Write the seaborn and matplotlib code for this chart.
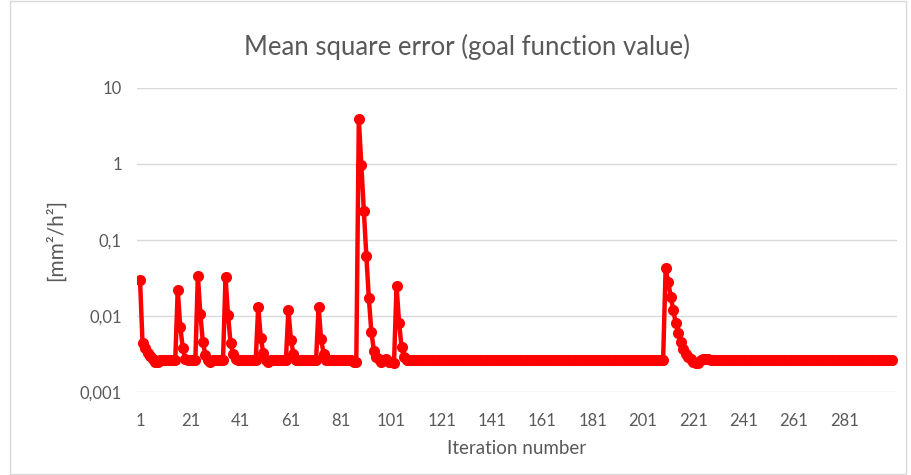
import pandas as pd
import seaborn as sns
import matplotlib.pyplot as plt
from matplotlib.patches import Rectangle

# mean square error per iteration (iterations 1..300)
mse = [
    0.030, 0.0044, 0.0038, 0.0033, 0.0030, 0.0027, 0.0025, 0.0025, 0.0026, 0.0026,
    0.0026, 0.0026, 0.0026, 0.0026, 0.0026, 0.022, 0.0072, 0.0038, 0.0027, 0.0026,
    0.0026, 0.0026, 0.0026, 0.034, 0.0105, 0.0045, 0.0031, 0.0026, 0.0025, 0.0026,
    0.0026, 0.0026, 0.0026, 0.0026, 0.033, 0.0102, 0.0044, 0.0032, 0.0027, 0.0026,
    0.0026, 0.0026, 0.0026, 0.0026, 0.0026, 0.0026, 0.0026, 0.0133, 0.0052, 0.0033,
    0.0026, 0.0025, 0.0026, 0.0026, 0.0026, 0.0026, 0.0026, 0.0026, 0.0026, 0.012,
    0.0049, 0.0032, 0.0026, 0.0026, 0.0026, 0.0026, 0.0026, 0.0026, 0.0026, 0.0026,
    0.0026, 0.0133, 0.0050, 0.0032, 0.0026, 0.0026, 0.0026, 0.0026, 0.0026, 0.0026,
    0.0026, 0.0026, 0.0026, 0.0026, 0.0026, 0.0025, 0.0025, 3.9, 0.97, 0.24,
    0.061, 0.017, 0.0061, 0.0035, 0.0029, 0.0027, 0.0025, 0.0026, 0.0027, 0.0025,
    0.0025, 0.0024, 0.025, 0.0082, 0.0039, 0.0029, 0.0026, 0.0026, 0.0026, 0.0026,
    0.0026, 0.0026, 0.0026, 0.0026, 0.0026, 0.0026, 0.0026, 0.0026, 0.0026, 0.0026,
    0.0026, 0.0026, 0.0026, 0.0026, 0.0026, 0.0026, 0.0026, 0.0026, 0.0026, 0.0026,
    0.0026, 0.0026, 0.0026, 0.0026, 0.0026, 0.0026, 0.0026, 0.0026, 0.0026, 0.0026,
    0.0026, 0.0026, 0.0026, 0.0026, 0.0026, 0.0026, 0.0026, 0.0026, 0.0026, 0.0026,
    0.0026, 0.0026, 0.0026, 0.0026, 0.0026, 0.0026, 0.0026, 0.0026, 0.0026, 0.0026,
    0.0026, 0.0026, 0.0026, 0.0026, 0.0026, 0.0026, 0.0026, 0.0026, 0.0026, 0.0026,
    0.0026, 0.0026, 0.0026, 0.0026, 0.0026, 0.0026, 0.0026, 0.0026, 0.0026, 0.0026,
    0.0026, 0.0026, 0.0026, 0.0026, 0.0026, 0.0026, 0.0026, 0.0026, 0.0026, 0.0026,
    0.0026, 0.0026, 0.0026, 0.0026, 0.0026, 0.0026, 0.0026, 0.0026, 0.0026, 0.0026,
    0.0026, 0.0026, 0.0026, 0.0026, 0.0026, 0.0026, 0.0026, 0.0026, 0.0026, 0.043,
    0.028, 0.018, 0.012, 0.0082, 0.0060, 0.0046, 0.0037, 0.0032, 0.0029, 0.0027,
    0.0025, 0.0024, 0.0024, 0.0026, 0.0027, 0.0027, 0.0027, 0.0026, 0.0026, 0.0026,
    0.0026, 0.0026, 0.0026, 0.0026, 0.0026, 0.0026, 0.0026, 0.0026, 0.0026, 0.0026,
    0.0026, 0.0026, 0.0026, 0.0026, 0.0026, 0.0026, 0.0026, 0.0026, 0.0026, 0.0026,
    0.0026, 0.0026, 0.0026, 0.0026, 0.0026, 0.0026, 0.0026, 0.0026, 0.0026, 0.0026,
    0.0026, 0.0026, 0.0026, 0.0026, 0.0026, 0.0026, 0.0026, 0.0026, 0.0026, 0.0026,
    0.0026, 0.0026, 0.0026, 0.0026, 0.0026, 0.0026, 0.0026, 0.0026, 0.0026, 0.0026,
    0.0026, 0.0026, 0.0026, 0.0026, 0.0026, 0.0026, 0.0026, 0.0026, 0.0026, 0.0026,
    0.0026, 0.0026, 0.0026, 0.0026, 0.0026, 0.0026, 0.0026, 0.0026, 0.0026, 0.0026,
]
x_ticks = [1, 21, 41, 61, 81, 101, 121, 141, 161, 181, 201, 221, 241, 261, 281]
y_ticks = [0.001, 0.01, 0.1, 1, 10]
y_labels = ["0,001", "0,01", "0,1", "1", "10"]

df = pd.DataFrame({"iteration": range(1, len(mse) + 1), "mse": mse})

sns.set_theme(style="white")
plt.rcParams["font.family"] = ["Lato", "DejaVu Sans"]
grey = "#595959"

fig = plt.figure(figsize=(9.12, 4.75), dpi=100)
fig.patches.append(Rectangle((0.011, 0.003), 0.982, 0.994, transform=fig.transFigure,
                             fill=False, edgecolor="#D9D9D9", linewidth=1))
ax = fig.add_axes([137 / 912, 1 - 392 / 475, 760 / 912, 304 / 475])

sns.lineplot(data=df, x="iteration", y="mse", ax=ax, color="#FF0000",
             linewidth=3.2, marker="o", markersize=8, markeredgewidth=0)

ax.set_yscale("log")
ax.set_ylim(0.001, 10)
ax.set_yticks(y_ticks)
ax.set_yticklabels(y_labels)
ax.minorticks_off()
ax.set_xlim(-0.2, 302)
ax.set_xticks(x_ticks)
ax.set_xticklabels([str(t) for t in x_ticks])

ax.grid(axis="y", color="#D9D9D9", linewidth=1)
ax.set_axisbelow(True)
sns.despine(ax=ax, top=True, right=True, left=True, bottom=True)
ax.tick_params(axis="both", length=0, labelsize=12, labelcolor=grey)
ax.tick_params(axis="y", pad=11)
ax.tick_params(axis="x", pad=15)

ax.set_xlabel("Iteration number", fontsize=13.5, color=grey, labelpad=8)
ax.set_ylabel("[mm²/h²]", fontsize=15, color=grey, labelpad=10)
fig.text(467 / 912, 1 - 47 / 475, "Mean square error (goal function value)",
         ha="center", va="center", fontsize=18.5, color=grey)

fig.savefig("out.png", dpi=100)
